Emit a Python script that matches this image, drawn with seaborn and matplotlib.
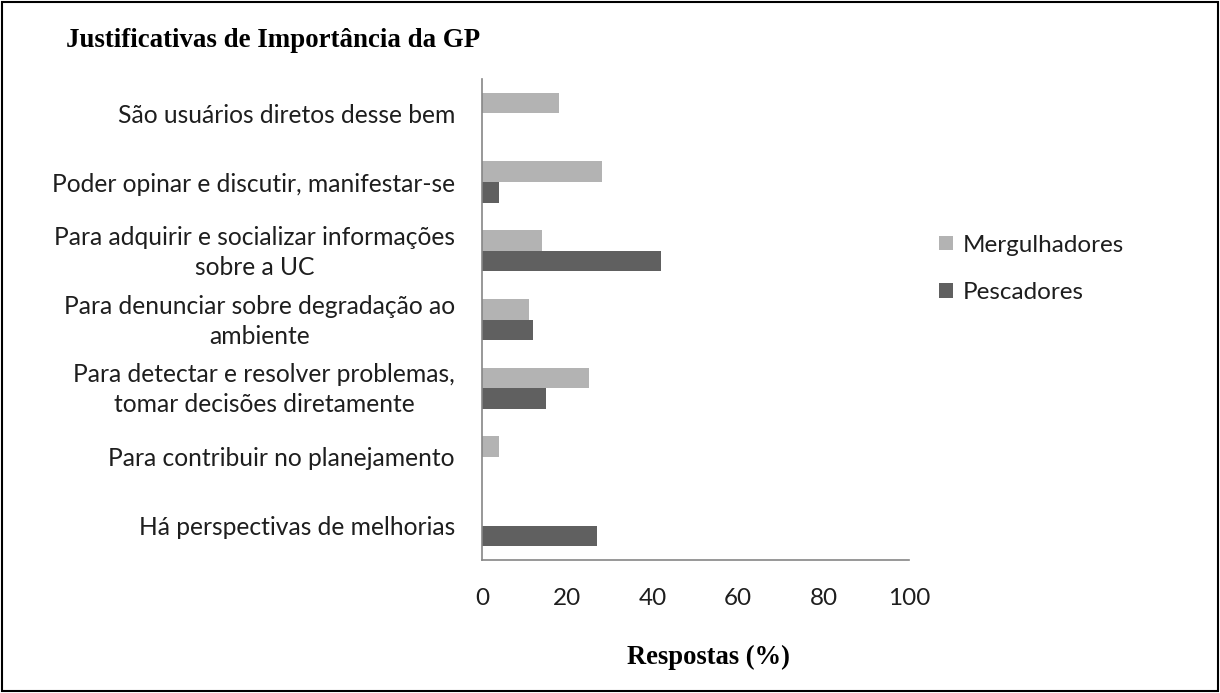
import numpy as np
import pandas as pd
import matplotlib
matplotlib.use("Agg")
import matplotlib.pyplot as plt
from matplotlib.patches import Rectangle
from matplotlib.transforms import ScaledTranslation
import seaborn as sns

categories = [
    "São usuários diretos desse bem",
    "Poder opinar e discutir, manifestar-se",
    "Para adquirir e socializar informações\nsobre a UC",
    "Para denunciar sobre degradação ao\nambiente",
    "Para detectar e resolver problemas,\ntomar decisões diretamente",
    "Para contribuir no planejamento",
    "Há perspectivas de melhorias",
]
mergulhadores = [18, 28, 14, 11, 25, 4, 0]
pescadores = [0, 4, 42, 12, 15, 0, 27]
series_names = ["Mergulhadores", "Pescadores"]
x_ticks = [0, 20, 40, 60, 80, 100]

df = pd.DataFrame({
    "Categoria": categories * 2,
    "Respostas": mergulhadores + pescadores,
    "Grupo": [series_names[0]] * len(categories) + [series_names[1]] * len(categories),
})

sns.set_theme(style="white")
plt.rcParams["font.family"] = ["Lato", "DejaVu Sans"]

fig = plt.figure(figsize=(12.2, 6.93), dpi=100)
ax = fig.add_axes([0.3951, 0.1919, 0.7451 - 0.3951, 0.886 - 0.1919])

sns.barplot(data=df, y="Categoria", x="Respostas", hue="Grupo",
            order=categories, hue_order=series_names,
            palette=["#b3b3b3", "#606060"], saturation=1,
            width=0.6, orient="h", linewidth=0, ax=ax)

axis_col = "#868686"
text_col = "#1e1e1e"
ax.set_xlim(0, 100)
ax.set_xticks(x_ticks)
ax.set_xticklabels([str(v) for v in x_ticks], fontsize=17.5, color=text_col)
ax.set_ylim(len(categories) - 0.5, -0.5)
ax.set_yticks(np.arange(-0.5, len(categories), 1), minor=True)
ax.tick_params(axis="y", which="major", length=0, pad=19.5, labelsize=17.7, labelcolor=text_col)
ax.tick_params(axis="y", which="minor", length=8, width=1.2, color=axis_col, direction="out")
ax.tick_params(axis="x", which="major", length=7, width=1.2, color=axis_col, direction="out", pad=13)
shift_up = ScaledTranslation(0, 4 / 100, fig.dpi_scale_trans)
for lbl in ax.get_yticklabels():
    lbl.set_multialignment("center")
    lbl.set_linespacing(1.38)
    if "\n" in lbl.get_text():
        lbl.set_transform(lbl.get_transform() + shift_up)

for side in ["top", "right"]:
    ax.spines[side].set_visible(False)
for side in ["left", "bottom"]:
    ax.spines[side].set_color(axis_col)
    ax.spines[side].set_linewidth(1.2)
ax.set_xlabel("")
ax.set_ylabel("")
ax.grid(False)

handles, labels = ax.get_legend_handles_labels()
ax.get_legend().remove()
fig.legend(handles, labels, loc="center left", bbox_to_anchor=(0.752, 0.612),
           frameon=False, fontsize=17.5, handlelength=0.55, handleheight=0.55,
           handletextpad=0.4, labelspacing=1.1, labelcolor=text_col)

fig.text(0.0545, 0.941, "Justificativas de Importância da GP", fontsize=19.4,
         fontweight="bold", family="Liberation Serif", ha="left", va="center", color="black")
fig.text(0.581, 0.051, "Respostas (%)", fontsize=19.2, fontweight="bold",
         family="Liberation Serif", ha="center", va="center", color="black")

fig.add_artist(Rectangle((0.002, 0.003), 0.996, 0.994, transform=fig.transFigure,
                         fill=False, edgecolor="black", linewidth=1.5))

fig.savefig("out.png", dpi=100, facecolor="white")
